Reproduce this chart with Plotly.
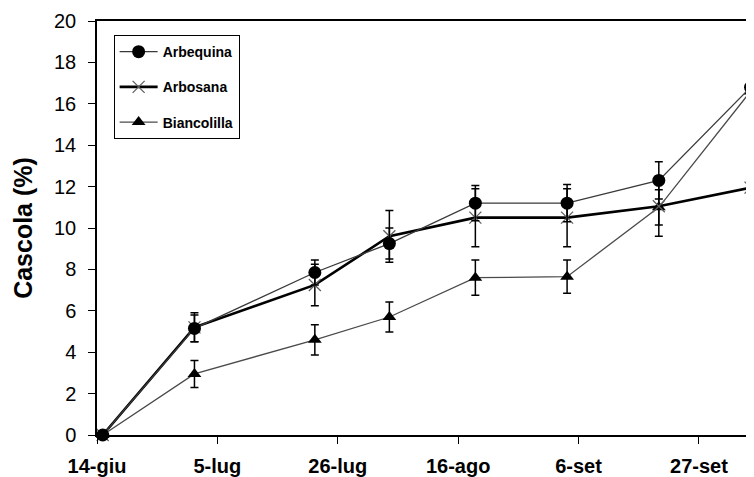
import plotly.graph_objects as go

# ---- data ----
dates = ["2000-06-15", "2000-07-01", "2000-07-22", "2000-08-04",
         "2000-08-19", "2000-09-04", "2000-09-20", "2000-10-06"]

arbequina = [0, 5.15, 7.85, 9.25, 11.2, 11.2, 12.3, 16.8]
arbequina_err = [0, 0.65, 0.6, 0.75, 0.85, 0.9, 0.9, 1.1]

arbosana = [0, 5.2, 7.25, 9.6, 10.5, 10.5, 11.05, 11.95]
arbosana_err = [0, 0.7, 1.0, 1.25, 1.4, 1.4, 1.45, 1.4]

biancolilla = [0, 2.95, 4.6, 5.7, 7.6, 7.65, 11.0, 16.6]
biancolilla_err = [0, 0.65, 0.73, 0.72, 0.85, 0.8, 0.85, 0.8]

tick_dates = ["2000-06-14", "2000-07-05", "2000-07-26", "2000-08-16",
              "2000-09-06", "2000-09-27"]
tick_labels = ["14-giu", "5-lug", "26-lug", "16-ago", "6-set", "27-set"]

y_ticks = list(range(0, 21, 2))

FONT = "Liberation Sans, Arial, sans-serif"

fig = go.Figure()

def err(vals):
    return dict(type="data", array=vals, visible=True, color="black",
                thickness=1.5, width=4)

# draw order: Biancolilla under, Arbequina on top
fig.add_trace(go.Scatter(
    x=dates, y=biancolilla, name="Biancolilla", mode="lines+markers",
    line=dict(color="#4a4a4a", width=1.3),
    marker=dict(symbol="triangle-up", size=12, color="black"),
    error_y=err(biancolilla_err), cliponaxis=False,
    legendgroup="c", legendrank=3))

fig.add_trace(go.Scatter(
    x=dates, y=arbosana, name="Arbosana", mode="lines+markers",
    line=dict(color="black", width=2.6),
    marker=dict(symbol="x-thin-open", size=12, color="#606060",
                line=dict(color="#606060", width=1.3)),
    error_y=err(arbosana_err), cliponaxis=False,
    legendgroup="b", legendrank=2))

fig.add_trace(go.Scatter(
    x=dates, y=arbequina, name="Arbequina", mode="lines+markers",
    line=dict(color="#3a3a3a", width=1.3),
    marker=dict(symbol="circle", size=13, color="black"),
    error_y=err(arbequina_err), cliponaxis=False,
    legendgroup="a", legendrank=1))

fig.update_layout(
    width=754, height=477,
    margin=dict(l=89, r=0, t=13, b=50),
    paper_bgcolor="white", plot_bgcolor="white",
    showlegend=True,
    legend=dict(x=0.025, y=0.966, xanchor="left", yanchor="top",
                bgcolor="white", bordercolor="black", borderwidth=1,
                font=dict(family=FONT, size=14, color="black", weight="bold"),
                itemwidth=38,
                tracegroupgap=14, traceorder="grouped"),
    xaxis=dict(type="date", range=["2000-06-14", "2000-10-08"],
               tickvals=tick_dates, ticktext=tick_labels,
               showgrid=False, zeroline=False,
               showline=True, linecolor="black", linewidth=1.5, mirror=True,
               ticks="outside", ticklen=7, tickwidth=1.3, tickcolor="black",
               ticklabelstandoff=5,
               tickfont=dict(family=FONT, size=20, color="black", weight="bold")),
    yaxis=dict(range=[0, 20], tickvals=y_ticks,
               showgrid=False, zeroline=False,
               showline=True, linecolor="black", linewidth=1.5,
               ticks="outside", ticklen=7, tickwidth=1.3, tickcolor="black",
               ticklabelstandoff=8,
               tickfont=dict(family=FONT, size=20, color="black"),
               title=dict(text="Cascola (%)", standoff=14,
                          font=dict(family=FONT, size=25, color="black",
                                    weight="bold"))),
)

fig.write_html("out.html")
